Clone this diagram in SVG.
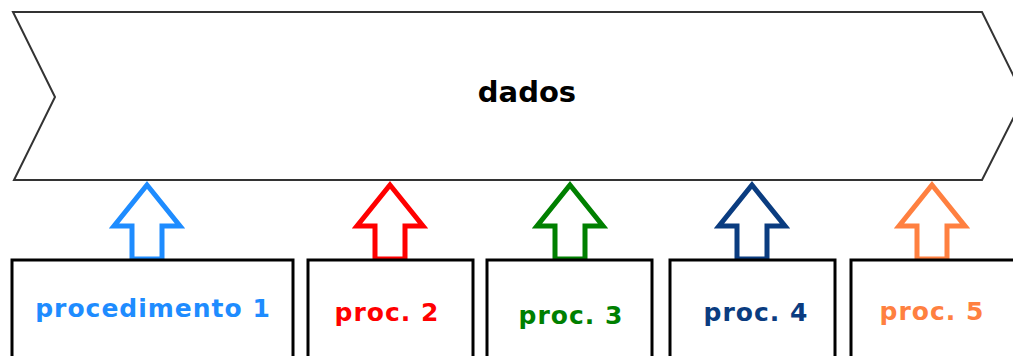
<svg xmlns="http://www.w3.org/2000/svg" width="1013" height="356" viewBox="0 0 1013 356">
<style>
.box{fill:#fff;stroke:#000;stroke-width:3}
.arr{fill:#fff;stroke-width:5;stroke-linejoin:miter}
.lbl{font-family:"DejaVu Sans",sans-serif;font-weight:bold;font-size:25px;letter-spacing:1px;text-anchor:middle}
</style>
<rect width="1013" height="356" fill="#fff"/>
<g id="dados">
<path d="M13,12 L982,12 L1024,97 L982,180 L14,180 L55,97 Z" fill="#fff" stroke="#333" stroke-width="2"/>
<text x="527" y="102" style="font-family:'DejaVu Sans',sans-serif;font-weight:bold;font-size:29px;text-anchor:middle" fill="#000">dados</text>
</g>
<g id="connectors">
<path class="arr" stroke="#1e8cff" d="M147,185 L180,226 L162,226 L162,259 L132,259 L132,226 L114,226 Z"/>
<path class="arr" stroke="#ff0000" d="M390,185 L423,226 L405,226 L405,259 L375,259 L375,226 L357,226 Z"/>
<path class="arr" stroke="#008000" d="M570,185 L603,226 L585,226 L585,259 L555,259 L555,226 L537,226 Z"/>
<path class="arr" stroke="#0a3c80" d="M752,185 L785,226 L767,226 L767,259 L737,259 L737,226 L719,226 Z"/>
<path class="arr" stroke="#ff8040" d="M932,185 L965,226 L947,226 L947,259 L917,259 L917,226 L899,226 Z"/>
</g>
<g id="proc1"><rect class="box" x="12" y="260" width="281" height="110"/><text class="lbl" x="153" y="317" fill="#1e8cff">procedimento 1</text></g>
<g id="proc2"><rect class="box" x="308" y="260" width="165" height="110"/><text class="lbl" x="387" y="321" fill="#ff0000">proc. 2</text></g>
<g id="proc3"><rect class="box" x="487" y="260" width="165" height="110"/><text class="lbl" x="571" y="324" fill="#008000">proc. 3</text></g>
<g id="proc4"><rect class="box" x="670" y="260" width="165" height="110"/><text class="lbl" x="756" y="321" fill="#0a3c80">proc. 4</text></g>
<g id="proc5"><rect class="box" x="851" y="260" width="200" height="110"/><text class="lbl" x="932" y="320" fill="#ff8040">proc. 5</text></g>
</svg>
